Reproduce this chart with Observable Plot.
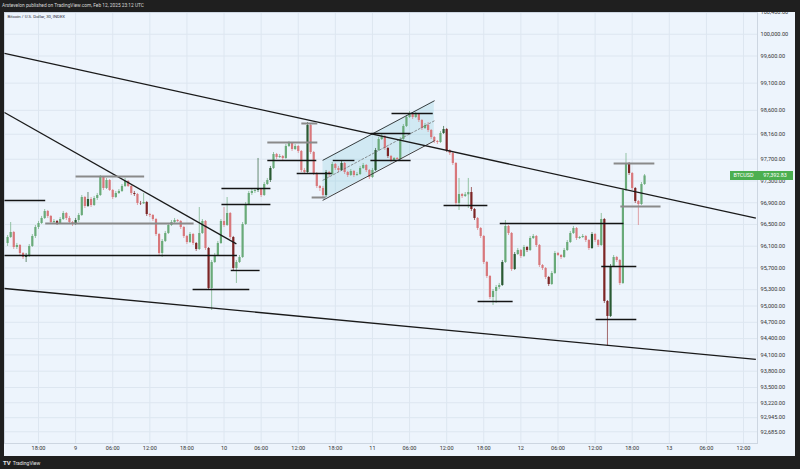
<!DOCTYPE html>
<html><head><meta charset="utf-8">
<script src="https://cdn.jsdelivr.net/npm/d3@7"></script>
<script src="https://cdn.jsdelivr.net/npm/@observablehq/plot@0.6"></script>
<style>
html,body{margin:0;padding:0;background:#1f1f1f;}
#root{position:relative;width:800px;height:469px;overflow:hidden;background:#1f1f1f;font-family:Roboto,"Liberation Sans",sans-serif;}
#hdr{position:absolute;left:2px;top:2px;font-size:4.8px;line-height:7px;color:#d8d8d8;white-space:nowrap;}
#pane{position:absolute;left:4px;top:12px;width:791px;height:444px;background:#edf4fc;overflow:hidden;}
#pane svg{display:block;}
#ftr{position:absolute;left:3px;top:459px;font-size:5px;line-height:7px;color:#e8e8e8;white-space:nowrap;}
#ftr b{font-size:6px;margin-right:2px;}
.lbl{position:absolute;height:9px;line-height:9px;background:#4caf50;color:#fff;font-size:5.4px;text-align:center;}
</style></head>
<body><div id="root">
<div id="hdr">Arstevelon published on TradingView.com, Feb 12, 2025 23:12 UTC</div>
<div id="pane"></div>
<div id="ftr"><b>TV</b>TradingView</div>
</div>
<script>
const chartTitle = "Bitcoin / U.S. Dollar, 30, INDEX";
const symbolName = "BTCUSD";
const startTime = "2025-02-08T13:00:00Z"; // first 30-minute bar
const firstOpen = 96150;
const closes = [
96260,96352,96076,96113,95966,95892,95929,96095,96279,96444,
96518,96610,96739,96647,96536,96555,96518,96591,96702,96610,
96536,96499,96573,96665,96996,96831,96959,96849,96978,97033,
97364,97162,97309,97125,96996,97070,97107,97199,97291,97199,
97070,97051,96886,96880,96904,96683,96665,96591,96315,95966,
96187,96334,96481,96536,96573,96555,96444,96279,96168,96315,
96150,96039,96334,96555,96058,95322,95800,95929,96150,96555,
96481,96702,96260,95690,95800,95892,96499,96867,97070,97107,
97125,97143,97033,97235,97309,97530,97787,97732,97751,97714,
97935,97990,97879,97935,97843,97493,97456,98321,97824,97438,
97199,97162,97033,97456,97419,97603,97530,97493,97622,97456,
97401,97475,97401,97419,97530,97585,97493,97364,97493,97861,
98063,98119,97898,97751,97677,97714,97695,98063,98303,98468,
98523,98468,98523,98413,98266,98321,98229,98100,98027,98008,
98174,98247,97861,97806,97622,96886,97051,97015,97045,97088,
96775,96610,96426,96279,95800,95543,95156,95267,95340,95377,
95800,96463,96334,95671,95947,96021,95911,96076,96021,96242,
96279,96113,95745,95690,95524,95395,95598,95966,95929,95892,
96021,96168,96334,96426,96242,96260,96279,96205,96058,96315,
96205,96113,96591,95083,94807,95727,95892,95837,95414,97125,
97622,97438,97162,96923,96867,97235,97392.83];
const highs = [
96297,96536,96371,96150,96131,95984,95966,96131,96315,96481,
96555,96647,96775,96757,96665,96591,96573,96628,96739,96720,
96647,96555,96610,96702,97033,97015,97088,96996,97015,97070,
97401,97383,97346,97327,97143,97107,97143,97235,97346,97309,
97217,97107,97070,96923,97070,96923,96702,96683,96610,96334,
96223,96371,96518,96573,96610,96591,96573,96463,96297,96352,
96334,96168,96812,96591,96573,96076,95837,95966,96187,96591,
96812,96996,96720,96279,95837,95929,96536,96904,97107,97143,
97162,97714,97162,97272,97346,97567,97824,97806,97787,97769,
97971,98027,98008,97971,97953,97861,97530,98376,98339,97843,
97456,97217,97199,97493,97475,97640,97622,97567,97677,97640,
97475,97511,97493,97456,97567,97622,97603,97511,97530,97898,
98100,98155,98137,97916,97769,97732,97732,98100,98339,98505,
98579,98542,98560,98542,98431,98358,98376,98247,98119,98045,
98211,98303,98266,97879,97824,97640,97346,97070,97088,97346,
97180,96794,96628,96444,96297,95818,95561,95303,95377,95414,
95837,96573,96481,96352,95984,96058,96039,96113,96095,96279,
96315,96297,96131,95763,95708,95543,95635,96003,95984,95947,
96058,96205,96371,96463,96444,96279,96315,96297,96223,96352,
96334,96223,96702,96610,95101,95763,95929,95911,95855,97162,
97806,97640,97456,97180,96941,97272,97419];
const lows = [
96095,96242,96039,96039,95929,95855,95800,95892,96076,96242,
96407,96499,96591,96610,96499,96518,96481,96499,96573,96573,
96518,96463,96481,96536,96647,96794,96812,96812,96831,96941,
97015,97125,97143,97107,96959,96978,97051,97088,97180,97180,
97033,97015,96849,96849,96867,96647,96628,96555,96279,95929,
95892,96168,96315,96463,96518,96536,96407,96242,96131,96150,
96113,96003,96021,96315,96021,95285,94917,95782,95911,96131,
96444,96463,96223,95653,95414,95782,95874,96481,96849,97033,
97070,97088,96996,97015,97217,97272,97511,97695,97714,97677,
97695,97916,97843,97861,97806,97456,97419,97438,97787,97401,
97162,97107,96978,96996,97364,97401,97493,97456,97475,97419,
97364,97383,97364,97383,97401,97511,97456,97327,97346,97475,
97843,98045,97861,97714,97640,97659,97659,97677,98045,98284,
98450,98431,98450,98376,98229,98247,98192,98063,97990,97971,
97990,98155,97824,97769,97585,96849,96757,96978,96996,96794,
96739,96573,96389,96242,95763,95506,95119,95009,95046,95303,
95359,95782,96297,95635,95653,95929,95874,95892,95984,96003,
96223,96076,95708,95653,95487,95359,95377,95579,95911,95855,
95874,96003,96150,96315,96205,96223,96242,96168,96021,96039,
96168,96076,96095,95046,94255,94788,95708,95800,95377,95395,
97107,97401,97125,96886,96481,96849,97217];
// bars drawn in the darker shade on the reference
const darkBars = [6,16,22,26,41,43,45,61,65,73,81,85,97,103,108,119,123,141,142,150,151,160,164,168,175,189,193,194,195,201,203];

const priceTicks = [100400,100000,99600,99100,98600,98160,97700,97300,96900,96500,96100,95700,95300,95000,94700,94400,94100,93800,93500,93220,92945,92685];
const timeTickStart = "2025-02-08T18:00:00Z";
const timeTickLabels = ["18:00","9","06:00","12:00","18:00","10","06:00","12:00","18:00","11","06:00","12:00","18:00","12","06:00","12:00","18:00","13","06:00","12:00"];

// trend lines: [start time, start price, end time, end price]
const trendLines = [
  ["2025-02-08T12:30Z", 99646, "2025-02-13T14:00Z", 96617],
  ["2025-02-08T12:30Z", 98560, "2025-02-10T02:00Z", 96142],
  ["2025-02-08T12:30Z", 95322, "2025-02-13T14:00Z", 94019]
];
// horizontal levels: [start, end, price, style]
const levelSegments = [
  ["2025-02-08T12:30Z","2025-02-08T19:05Z",96941,"black"],
  ["2025-02-09T00:00Z","2025-02-09T11:05Z",97383,"gray"],
  ["2025-02-08T19:05Z","2025-02-09T19:05Z",96518,"gray"],
  ["2025-02-08T12:30Z","2025-02-10T02:05Z",95929,"black"],
  ["2025-02-09T23:35Z","2025-02-10T07:30Z",97162,"black"],
  ["2025-02-09T23:35Z","2025-02-10T07:30Z",96867,"black"],
  ["2025-02-10T01:05Z","2025-02-10T05:45Z",95653,"black"],
  ["2025-02-09T18:55Z","2025-02-10T04:05Z",95303,"black"],
  ["2025-02-10T07:00Z","2025-02-10T15:05Z",98008,"gray"],
  ["2025-02-10T07:00Z","2025-02-10T14:55Z",97677,"black"],
  ["2025-02-10T11:45Z","2025-02-10T17:25Z",97438,"black"],
  ["2025-02-10T12:30Z","2025-02-10T15:05Z",98358,"gray"],
  ["2025-02-10T14:10Z","2025-02-10T16:25Z",96996,"gray"],
  ["2025-02-10T17:35Z","2025-02-10T21:05Z",97677,"black"],
  ["2025-02-10T23:40Z","2025-02-11T06:10Z",98174,"black"],
  ["2025-02-10T23:40Z","2025-02-11T06:10Z",97677,"black"],
  ["2025-02-11T03:05Z","2025-02-11T09:45Z",98542,"black"],
  ["2025-02-11T11:30Z","2025-02-11T18:35Z",96849,"black"],
  ["2025-02-11T20:35Z","2025-02-12T16:35Z",96518,"black"],
  ["2025-02-11T17:00Z","2025-02-11T22:40Z",95083,"black"],
  ["2025-02-12T13:00Z","2025-02-12T18:40Z",95727,"black"],
  ["2025-02-12T12:05Z","2025-02-12T18:40Z",94751,"black"],
  ["2025-02-12T15:00Z","2025-02-12T21:35Z",97622,"gray"],
  ["2025-02-12T16:05Z","2025-02-12T22:35Z",96831,"gray"]
];
// parallel channel
const channelTimes = ["2025-02-10T16:00Z","2025-02-11T10:00Z"];
const channelUpper = [97682, 98774];
const channelLower = [96946, 98038];
const channelMid = [97314, 98406];

// ---- build ----
const t0 = new Date(startTime);
const candles = closes.map((c, i) => ({
  t: new Date(+t0 + i * 1800000),
  o: i === 0 ? firstOpen : closes[i - 1],
  c, h: highs[i], l: lows[i], dark: darkBars.includes(i)
}));
const colUp = "#69aa79", colDown = "#d8777b", colUpDark = "#2a5a33", colDownDark = "#7c2424";
const candleColor = d => d.c >= d.o ? (d.dark ? colUpDark : colUp) : (d.dark ? colDownDark : colDown);

const tt0 = new Date(timeTickStart);
const tickTimes = timeTickLabels.map((_, i) => new Date(+tt0 + i * 6 * 3600000));
const tickLabelMap = new Map(tickTimes.map((d, i) => [+d, timeTickLabels[i]]));

const trends = trendLines.map(([a, p, b, q]) => ({x1: new Date(a), y1: p, x2: new Date(b), y2: q}));
const levels = levelSegments.map(([a, b, p, s]) => ({x1: new Date(a), x2: new Date(b), p, s}));
const chan = channelTimes.map((t, i) => ({t: new Date(t), hi: channelUpper[i], lo: channelLower[i], mid: channelMid[i]}));
const lastPrice = closes[closes.length - 1];

const fmtPrice = d3.format(",.2f");
const plot = Plot.plot({
  width: 791, height: 444,
  marginLeft: 0, marginRight: 38, marginTop: 0, marginBottom: 13,
  style: {background: "transparent", fontFamily: "Roboto, 'Liberation Sans', sans-serif", overflow: "hidden"},
  x: {type: "utc", domain: [tickTimes[0], tickTimes[tickTimes.length - 1]], range: [34, 739]},
  y: {domain: [92672, 100400], range: [420, 0]},
  marks: [
    Plot.gridX(tickTimes, {stroke: "#dde6f0", strokeOpacity: 1}),
    Plot.gridY(priceTicks, {stroke: "#dde6f0", strokeOpacity: 1}),
    Plot.frame({stroke: "#cdd6e1"}),
    Plot.areaY(chan, {x: "t", y1: "lo", y2: "hi", fill: "#6cc6d8", fillOpacity: 0.22, curve: "linear", clip: "frame"}),
    Plot.ruleX(candles, {x: "t", y1: "l", y2: "h", stroke: candleColor, strokeWidth: 0.8, strokeOpacity: 0.85, clip: "frame"}),
    Plot.ruleX(candles, {x: "t", y1: "o", y2: "c", stroke: candleColor, strokeWidth: 2.2, clip: "frame"}),
    Plot.line(chan, {x: "t", y: "hi", stroke: "#2a2a2a", strokeWidth: 0.9}),
    Plot.line(chan, {x: "t", y: "lo", stroke: "#2a2a2a", strokeWidth: 0.9}),
    Plot.line(chan, {x: "t", y: "mid", stroke: "#666", strokeWidth: 0.7, strokeDasharray: "2,2"}),
    Plot.link(trends, {x1: "x1", y1: "y1", x2: "x2", y2: "y2", stroke: "#1a1a1a", strokeWidth: 1.3, clip: "frame"}),
    Plot.link(levels, {x1: "x1", x2: "x2", y1: "p", y2: "p", stroke: d => d.s === "gray" ? "#8a8a8a" : "#141414", strokeWidth: d => d.s === "gray" ? 2 : 1.4, clip: "frame"}),
    Plot.text([chartTitle], {text: d => d, frameAnchor: "top-left", dx: 3, dy: 4, lineAnchor: "middle", textAnchor: "start", fontSize: 4.3, fill: "#2a2e39"}),
    Plot.axisY(priceTicks, {anchor: "right", tickSize: 0, tickPadding: 3, tickFormat: fmtPrice, fontSize: 5.6, fill: "#333"}),
    Plot.axisX(tickTimes, {anchor: "bottom", tickSize: 0, tickPadding: 3, tickFormat: d => tickLabelMap.get(+d), fontSize: 5.6, fill: "#333"})
  ]
});
const pane = document.getElementById("pane");
pane.appendChild(plot);
const yLast = plot.scale("y").apply(lastPrice);
const l1 = document.createElement("div");
l1.className = "lbl"; l1.textContent = symbolName;
l1.style.left = "726px"; l1.style.width = "27px"; l1.style.top = (yLast - 4.5) + "px";
const l2 = document.createElement("div");
l2.className = "lbl"; l2.textContent = fmtPrice(lastPrice);
l2.style.left = "753px"; l2.style.width = "36px"; l2.style.top = (yLast - 4.5) + "px";
pane.appendChild(l1); pane.appendChild(l2);
</script>
</body></html>
